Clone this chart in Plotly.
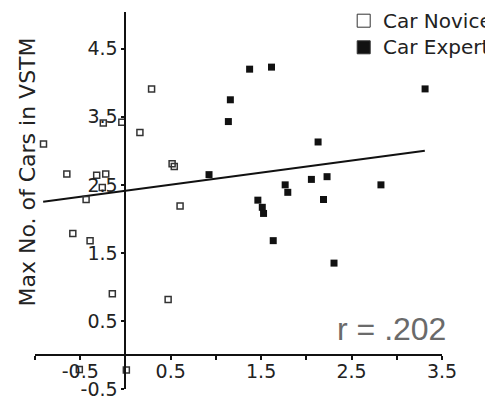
import plotly.graph_objects as go

# Car Novice (open squares)
novice_x = [-0.906, -0.648, -0.318, -0.218, -0.256, -0.435, -0.245, -0.04, 0.289, 0.16,
            0.516, 0.54, 0.604, -0.582, -0.391, -0.145, 0.472, -0.51, 0.01]
novice_y = [3.10, 2.66, 2.64, 2.66, 2.46, 2.285, 3.41, 3.42, 3.91, 3.27,
            2.81, 2.77, 2.19, 1.785, 1.68, 0.90, 0.815, -0.215, -0.22]

# Car Expert (filled squares)
expert_x = [1.373, 1.615, 3.313, 1.16, 1.138, 2.13, 0.924, 1.766, 1.795, 2.056,
            2.229, 2.825, 1.464, 1.513, 1.527, 2.19, 1.634, 2.306]
expert_y = [4.20, 4.23, 3.91, 3.75, 3.43, 3.13, 2.65, 2.50, 2.39, 2.58,
            2.62, 2.50, 2.275, 2.17, 2.08, 2.285, 1.68, 1.35]

# regression line endpoints
fit_x = [-0.91, 3.31]
fit_y = [2.25, 3.00]

x_tickvals = [-1, -0.5, 0, 0.5, 1, 1.5, 2, 2.5, 3, 3.5]
x_ticktext = ["", "-0.5", "", "0.5", "", "1.5", "", "2.5", "", "3.5"]
y_tickvals = [-0.5, 0.5, 1.5, 2.5, 3.5, 4.5]
y_ticktext = ["-0.5", "0.5", "1.5", "2.5", "3.5", "4.5"]

legend_names = ["Car Novice", "Car Expert"]
legend_fill = ["white", "#111111"]

x_range = [-1, 3.5]
y_range = [-0.5, 5.04]

FONT = "DejaVu Sans"

# page body has an 8px default margin; figure is sized to fill the rest
OFF = 8
W, H = 493 - OFF, 404 - OFF
PL, PT, PW, PH = 35, 12, 407, 377  # plot area in window pixels


def px_to_paper_x(px):
    return (px - PL) / PW


def px_to_paper_y(py):
    return (PT + PH - py) / PH


fig = go.Figure()
fig.add_trace(go.Scatter(x=fit_x, y=fit_y, mode="lines",
                         line=dict(color="#111111", width=2), showlegend=False,
                         hoverinfo="skip"))
fig.add_trace(go.Scatter(x=novice_x, y=novice_y, mode="markers", name=legend_names[0],
                         showlegend=False,
                         marker=dict(symbol="square-open", size=6, color="#333333",
                                     line=dict(width=1.5, color="#333333"))))
fig.add_trace(go.Scatter(x=expert_x, y=expert_y, mode="markers", name=legend_names[1],
                         showlegend=False,
                         marker=dict(symbol="square", size=7, color="#111111",
                                     line=dict(width=0))))

x_pos = (0 - y_range[0]) / (y_range[1] - y_range[0])
y_pos = (0 - x_range[0]) / (x_range[1] - x_range[0])

shapes = []
annotations = []
row_y = [20.7, 47.3]
for name, fill, ry in zip(legend_names, legend_fill, row_y):
    shapes.append(dict(type="rect", xref="paper", yref="paper",
                       x0=px_to_paper_x(357.2), x1=px_to_paper_x(370.2),
                       y0=px_to_paper_y(ry + 6.5), y1=px_to_paper_y(ry - 6.5),
                       fillcolor=fill, line=dict(color="#333333", width=1)))
    annotations.append(dict(text=name, xref="paper", yref="paper",
                            x=px_to_paper_x(380.5), y=px_to_paper_y(ry),
                            xanchor="left", yanchor="middle", showarrow=False,
                            font=dict(family=FONT, size=20, color="#222222")))

annotations.append(dict(text="Max No. of Cars in VSTM", xref="paper", yref="paper",
                        x=px_to_paper_x(27), y=px_to_paper_y(172.5),
                        xanchor="center", yanchor="middle",
                        textangle=-90, showarrow=False,
                        font=dict(family=FONT, size=22, color="#222222")))
annotations.append(dict(text="r = .202", xref="paper", yref="paper",
                        x=px_to_paper_x(391.5), y=px_to_paper_y(328.5),
                        xanchor="center", yanchor="middle", showarrow=False,
                        font=dict(family="Liberation Sans", size=32, color="#6a6a6a")))

fig.update_layout(
    width=W, height=H,
    margin=dict(l=PL - OFF, r=W - (PL - OFF) - PW, t=PT - OFF, b=H - (PT - OFF) - PH,
                autoexpand=False),
    paper_bgcolor="white", plot_bgcolor="white",
    font=dict(family=FONT, size=19, color="#222222"),
    xaxis=dict(range=x_range, anchor="free", position=x_pos, showgrid=False,
               zeroline=False, showline=True, linecolor="#111111", linewidth=2,
               ticks="outside", ticklen=4, tickwidth=2, tickcolor="#111111",
               tickvals=x_tickvals, ticktext=x_ticktext, automargin=False,
               ticklabelstandoff=-5,
               tickfont=dict(family=FONT, size=19, color="#222222")),
    yaxis=dict(range=y_range, anchor="free", position=y_pos, showgrid=False,
               zeroline=False, showline=True, linecolor="#111111", linewidth=2,
               ticks="outside", ticklen=3, tickwidth=2, tickcolor="#111111",
               tickvals=y_tickvals, ticktext=y_ticktext, automargin=False,
               tickfont=dict(family=FONT, size=19, color="#222222")),
    showlegend=False,
    shapes=shapes,
    annotations=annotations,
)

fig.write_html("out.html")
